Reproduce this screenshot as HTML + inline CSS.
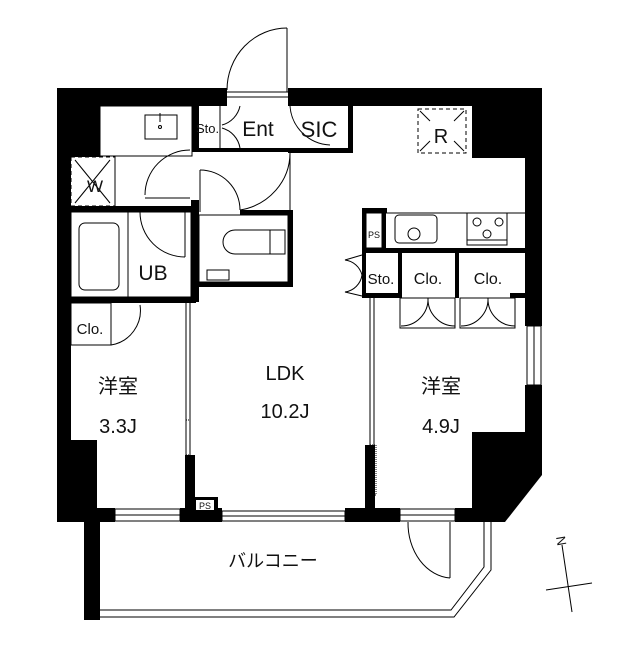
<!DOCTYPE html>
<html><head><meta charset="utf-8"><style>
html,body{margin:0;padding:0;background:#fff}
svg text{font-family:"Liberation Sans","Noto Sans CJK JP",sans-serif;fill:#111}
</style></head><body>
<svg width="640" height="640" viewBox="0 0 640 640" xmlns="http://www.w3.org/2000/svg">
<g fill="#000">
<rect x="57" y="88" width="170" height="18"/>
<rect x="288" y="88" width="254" height="18"/>
<rect x="57" y="88" width="43" height="69"/>
<rect x="57" y="88" width="14" height="434"/>
<rect x="57" y="440" width="40" height="82"/>
<rect x="472" y="88" width="70" height="70"/>
<rect x="525" y="88" width="17" height="238"/>
<polygon points="472,432 542,432 542,475 505,522 472,522"/>
<rect x="525" y="385" width="17" height="50"/>
<rect x="57" y="508" width="58" height="14"/>
<rect x="180" y="508" width="42" height="14"/>
<rect x="345" y="508" width="55" height="14"/>
<rect x="455" y="508" width="50" height="14"/>
<rect x="84" y="520" width="16" height="100"/>
<rect x="192" y="106" width="7" height="46"/>
<rect x="197" y="148" width="93" height="4"/>
<rect x="348" y="106" width="5" height="47"/>
<rect x="288" y="148" width="65" height="5"/>
<rect x="71" y="206" width="120" height="6"/>
<rect x="191" y="200" width="8" height="102"/>
<rect x="240" y="210" width="52" height="5"/>
<rect x="288" y="210" width="5" height="77"/>
<rect x="197" y="282" width="96" height="5"/>
<rect x="71" y="297" width="125" height="6"/>
<rect x="185" y="455" width="10" height="56"/>
<rect x="193" y="497" width="25" height="14"/>
<rect x="365" y="445" width="10" height="66"/>
<rect x="362" y="208" width="25" height="5"/>
<rect x="362" y="208" width="4" height="90"/>
<rect x="382" y="208" width="4" height="45"/>
<rect x="362" y="248" width="163" height="5"/>
<rect x="362" y="293" width="40" height="5"/>
<rect x="398" y="253" width="4" height="45"/>
<rect x="455" y="253" width="4" height="45"/>
<rect x="510" y="293" width="15" height="5"/>
</g>
<g fill="none" stroke="#000" stroke-width="1">
<line x1="227" y1="92" x2="288" y2="92"/><line x1="227" y1="97" x2="288" y2="97"/>
<line x1="287" y1="28" x2="287" y2="92"/>
<path d="M227,90 A60,62 0 0 1 287,28"/>
<path d="M290,106 A42,42 0 0 0 330,145"/>
<path d="M240,106 A25,25 0 0 1 222,125"/>
<line x1="220" y1="106" x2="220" y2="148"/>
<path d="M240,148 A25,25 0 0 0 222,128"/>
<rect x="100" y="106" width="92" height="50"/>
<rect x="145" y="115" width="32" height="24"/>
<circle cx="160" cy="127" r="1.5"/>
<line x1="160" y1="113" x2="160" y2="122"/>
<rect x="71" y="157" width="44" height="49" stroke-dasharray="4,3"/>
<line x1="115" y1="157" x2="115" y2="206"/>
<line x1="75" y1="160" x2="110" y2="203"/><line x1="110" y1="160" x2="75" y2="203"/>
<text x="95" y="192" font-size="17" text-anchor="middle" stroke="none">W</text>
<path d="M190,150 A45,45 0 0 0 145,195"/>
<line x1="145" y1="198" x2="190" y2="198"/>
<path d="M200,170 A40,40 0 0 1 240,210"/>
<line x1="200" y1="170" x2="200" y2="212"/>
<path d="M290,153 A60,58 0 0 1 240,210"/>
<line x1="290" y1="150" x2="290" y2="210"/>
<path d="M140,212 A45,45 0 0 0 185,257"/>
<line x1="185" y1="212" x2="185" y2="257"/>
<rect x="71" y="212" width="120" height="85"/>
<rect x="79" y="223" width="40" height="67" rx="6"/>
<line x1="128" y1="212" x2="128" y2="297"/>
<rect x="199" y="215" width="89" height="67"/>
<path d="M270,230 L235,230 A12,12 0 0 0 235,254 L270,254 Z"/>
<rect x="270" y="230" width="15" height="24"/>
<rect x="207" y="270" width="22" height="10"/>
<rect x="71" y="303" width="40" height="42"/>
<path d="M111,345 A35,35 0 0 0 140,305"/>
<line x1="111" y1="303" x2="111" y2="345"/>
<line x1="186" y1="303" x2="186" y2="455"/><line x1="190" y1="303" x2="190" y2="455"/>
<rect x="186" y="420" width="4" height="35" stroke-dasharray="1,1"/>
<line x1="370" y1="298" x2="370" y2="445"/><line x1="374" y1="298" x2="374" y2="445"/>
<rect x="370" y="445" width="6" height="50" stroke-dasharray="1,1"/>
<rect x="115" y="509" width="65" height="12"/><line x1="115" y1="515" x2="180" y2="515"/>
<rect x="222" y="511" width="123" height="10"/><line x1="222" y1="516" x2="345" y2="516"/>
<rect x="400" y="509" width="55" height="12"/><line x1="400" y1="515" x2="455" y2="515"/>
<rect x="527" y="326" width="14" height="59"/><line x1="534" y1="326" x2="534" y2="385"/>
<line x1="450" y1="522" x2="450" y2="578"/>
<path d="M408,522 A45,55 0 0 0 450,578"/>
<polyline points="100,610 451,610 484,567 484,522"/>
<polyline points="100,617 454,617 491,570 491,522"/>
<line x1="386" y1="213" x2="525" y2="213"/>
<rect x="395" y="215" width="42" height="28" rx="4"/>
<circle cx="414" cy="234" r="6"/>
<rect x="467" y="213" width="40" height="32"/>
<line x1="467" y1="240" x2="507" y2="240"/>
<circle cx="477" cy="222" r="4"/><circle cx="499" cy="222" r="4"/><circle cx="487" cy="234" r="4"/>
<rect x="366" y="213" width="16" height="35"/>
<rect x="418" y="109" width="48" height="44" stroke-dasharray="4,3"/>
<line x1="420" y1="111" x2="430" y2="121"/><line x1="464" y1="111" x2="454" y2="121"/>
<line x1="420" y1="151" x2="430" y2="141"/><line x1="464" y1="151" x2="454" y2="141"/>
<path d="M362,255 L345,260 A20,20 0 0 1 362,275 A20,20 0 0 1 345,292 L362,296"/>
<rect x="400" y="298" width="55" height="30"/>
<path d="M428,298 A27,27 0 0 1 401,326 M428,298 A27,27 0 0 0 455,326"/>
<rect x="460" y="298" width="55" height="30"/>
<path d="M488,298 A27,27 0 0 1 461,326 M488,298 A27,27 0 0 0 515,326"/>
<line x1="562" y1="545" x2="572" y2="612"/>
<line x1="546" y1="590" x2="592" y2="583"/>
</g>
<rect x="196" y="500" width="18" height="10" fill="#fff"/>
<g stroke="none">
<text x="196" y="133" font-size="13">Sto.</text>
<text x="258" y="136" font-size="21" text-anchor="middle">Ent</text>
<text x="319" y="137" font-size="22" text-anchor="middle">SIC</text>
<text x="441" y="143" font-size="20" text-anchor="middle">R</text>
<text x="153" y="280" font-size="21" text-anchor="middle">UB</text>
<text x="90" y="334" font-size="15" text-anchor="middle">Clo.</text>
<text x="118" y="393" font-size="20" text-anchor="middle">洋室</text>
<text x="118" y="433" font-size="20" text-anchor="middle">3.3J</text>
<text x="285" y="380" font-size="20" text-anchor="middle">LDK</text>
<text x="285" y="418" font-size="20" text-anchor="middle">10.2J</text>
<text x="441" y="393" font-size="20" text-anchor="middle">洋室</text>
<text x="441" y="433" font-size="20" text-anchor="middle">4.9J</text>
<text x="381" y="284" font-size="15" text-anchor="middle">Sto.</text>
<text x="428" y="284" font-size="16" text-anchor="middle">Clo.</text>
<text x="488" y="284" font-size="16" text-anchor="middle">Clo.</text>
<text x="374" y="238" font-size="9" text-anchor="middle">PS</text>
<text x="205" y="509" font-size="9" text-anchor="middle">PS</text>
<text x="273" y="567" font-size="18" text-anchor="middle">バルコニー</text>
<text x="556" y="537" font-size="13" transform="rotate(80 556 537)">N</text>
</g>
</svg>
</body></html>
